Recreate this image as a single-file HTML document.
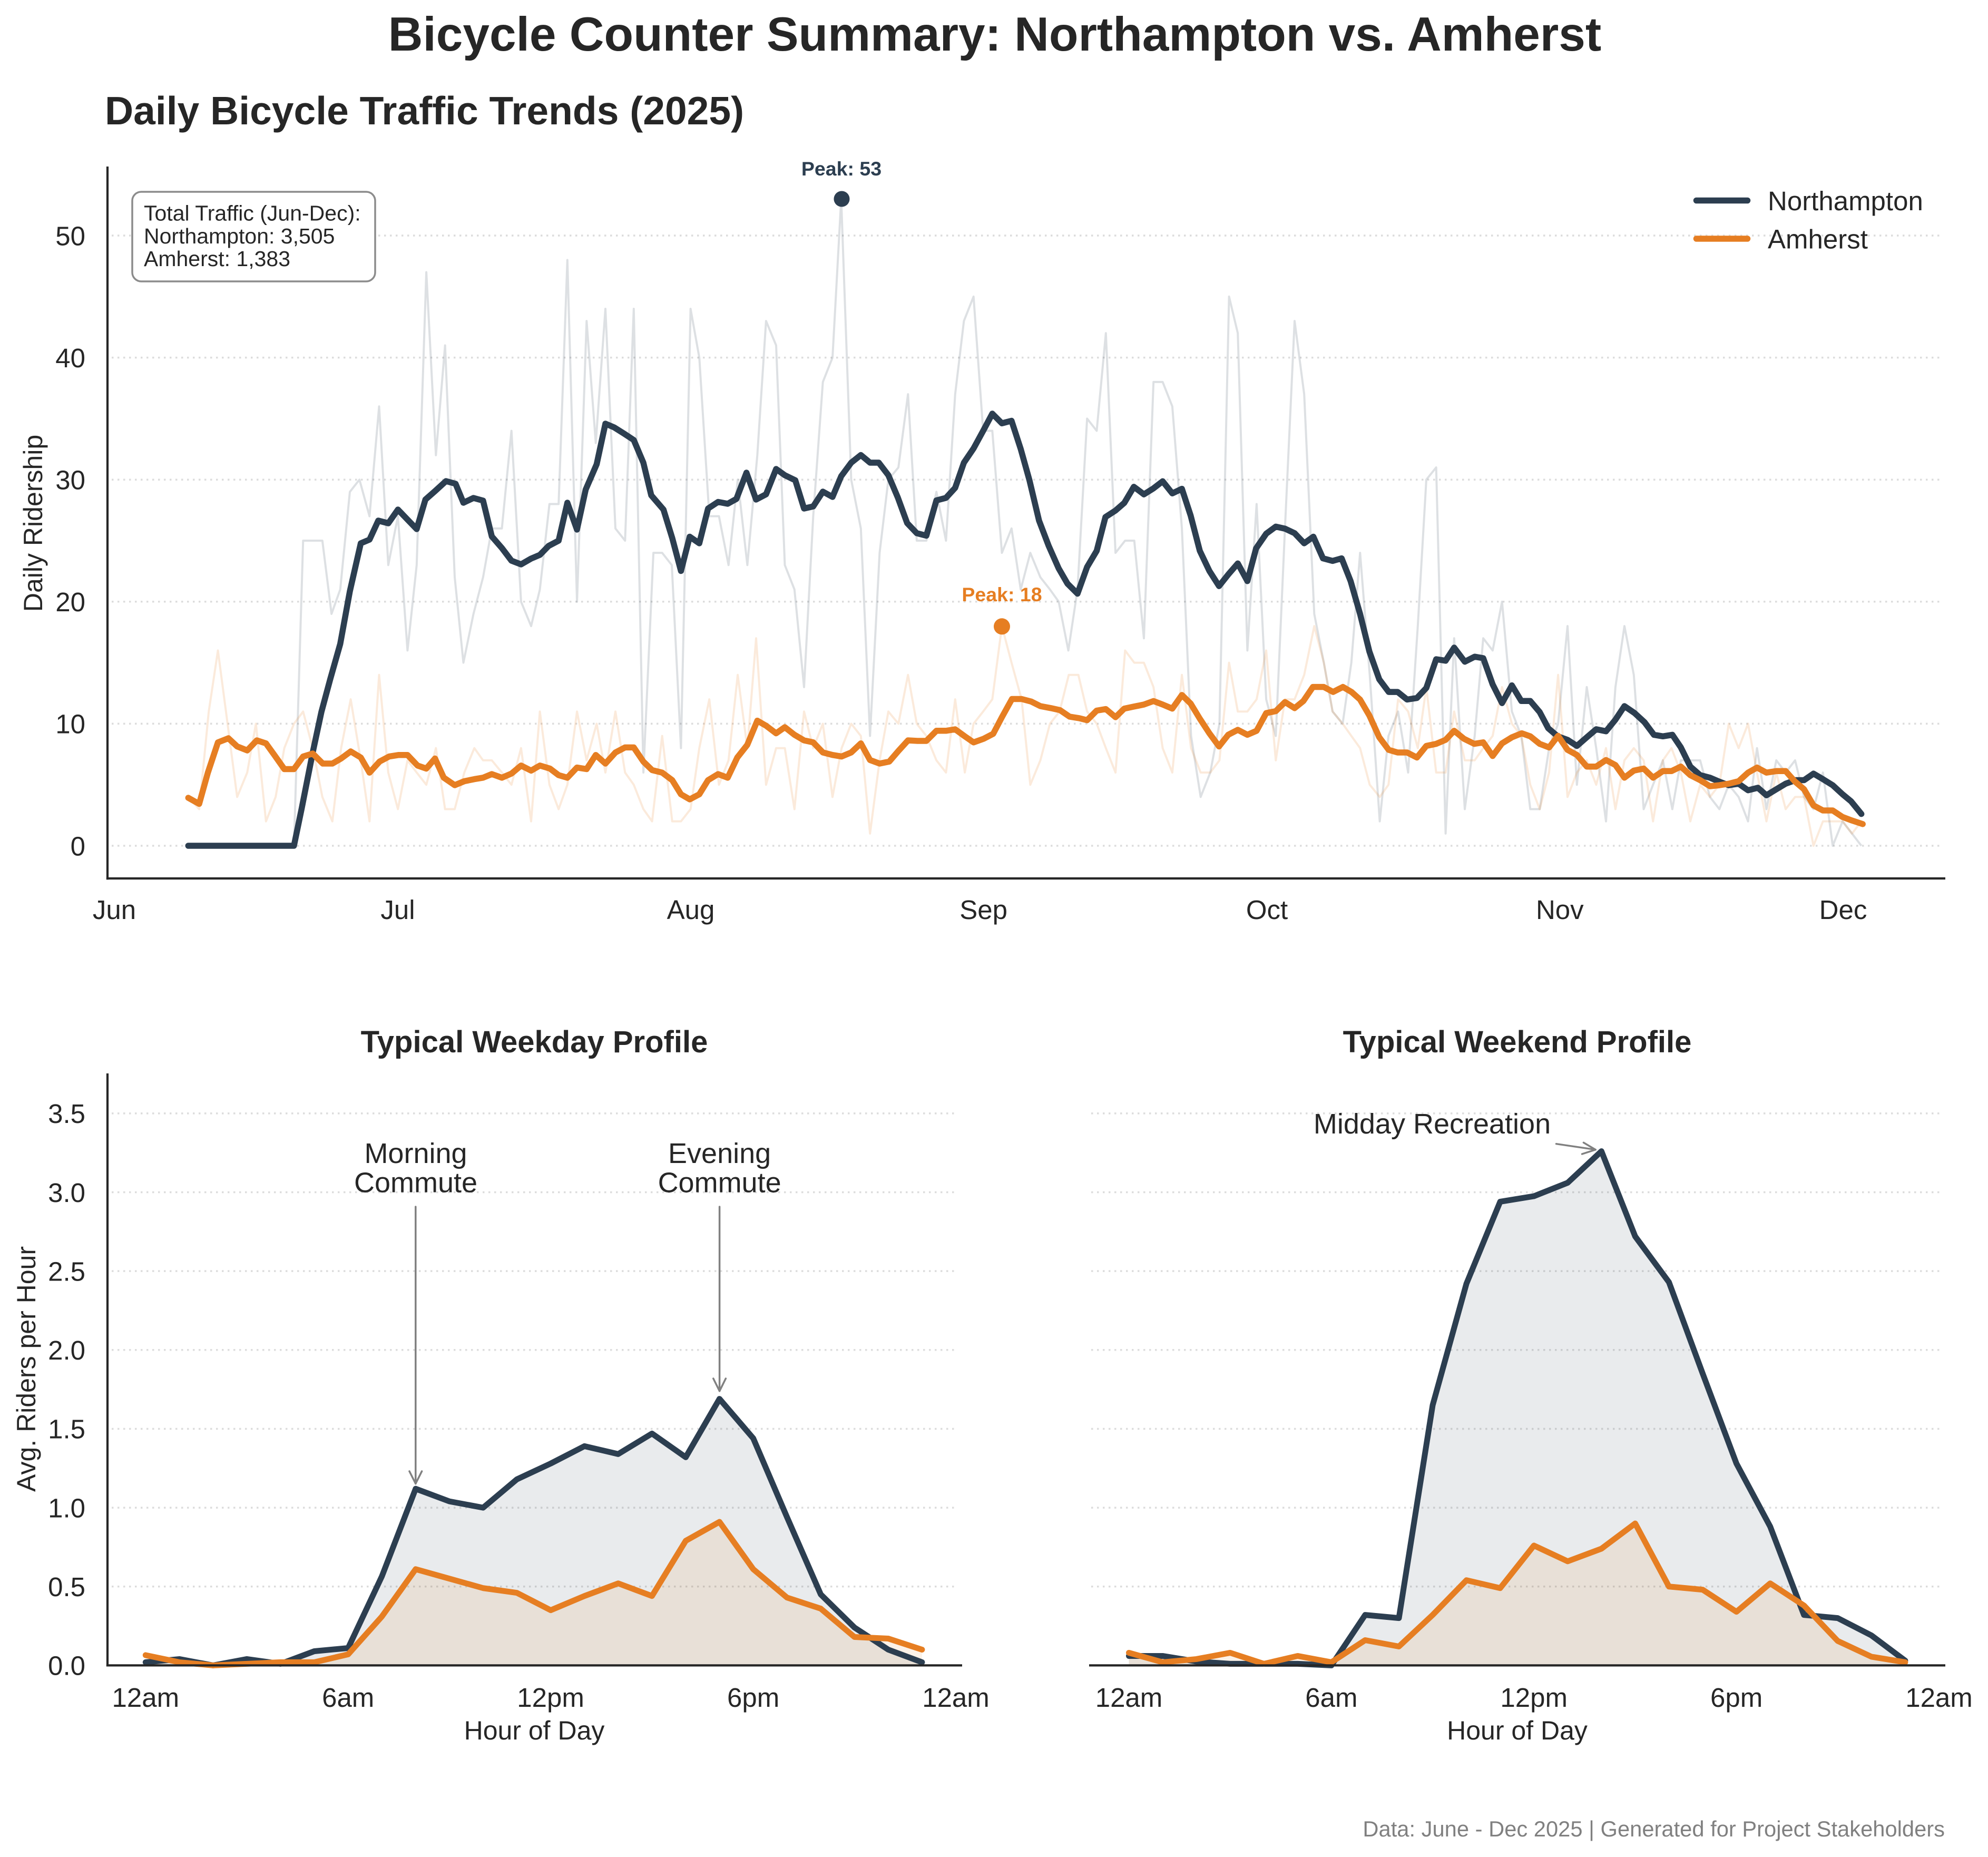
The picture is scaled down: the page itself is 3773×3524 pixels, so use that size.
<!DOCTYPE html>
<html>
<head>
<meta charset="utf-8">
<style>
  html, body { margin:0; padding:0; background:#ffffff; }
  svg { display:block; }
  text { font-family: "Liberation Sans", Arial, sans-serif; fill:#262626; }
</style>
</head>
<body>
<svg xmlns="http://www.w3.org/2000/svg" width="3773" height="3524" viewBox="0 0 3773 3524">
  <rect x="0" y="0" width="3773" height="3524" fill="#ffffff"/>

  <!-- Main title -->
  <text x="1888" y="96" font-size="91" font-weight="bold" text-anchor="middle">Bicycle Counter Summary: Northampton vs. Amherst</text>

  <!-- ============ TOP CHART ============ -->
  <text x="199" y="236" font-size="75" font-weight="bold">Daily Bicycle Traffic Trends (2025)</text>

  <!-- gridlines -->
  <g stroke="#dcdcdc" stroke-width="3.5" stroke-dasharray="3.5 7.5">
    <line x1="212" y1="1605" x2="3685" y2="1605"/>
    <line x1="212" y1="1373.4" x2="3685" y2="1373.4"/>
    <line x1="212" y1="1141.8" x2="3685" y2="1141.8"/>
    <line x1="212" y1="910.2" x2="3685" y2="910.2"/>
    <line x1="212" y1="678.6" x2="3685" y2="678.6"/>
    <line x1="212" y1="447" x2="3685" y2="447"/>
  </g>

  <!-- raw lines -->
  <g transform="translate(0,1605) scale(1,-23.16)">
    <polyline fill="none" stroke="#2c3e50" stroke-opacity="0.16" stroke-width="4" vector-effect="non-scaling-stroke" stroke-linejoin="round"
      points="357.3,0 557.9,0 575.3,25 611.8,25 629.2,19 645.7,21 664,29 682.2,30 701.3,27 719.5,36 736.9,23 755.2,27 773.4,16 790.8,23 809.1,47 827.3,32 844.7,41 863,22 879.5,15 898.6,19 916.8,22 933.4,26 952.5,26 970.7,34 988.9,20 1008,18 1024.6,21 1042.8,28 1060.2,28 1076.8,48 1095.1,20 1113.3,43 1130.7,33 1149,44 1168,26 1186.3,25 1202.8,44 1221.1,6 1240.1,24 1256.7,24 1275,23 1292.4,8 1310.6,44 1327.2,40 1346.2,27 1364.5,27 1382.7,23 1400.1,30 1418.4,23 1437.3,32 1453.9,43 1473,41 1489.5,23 1507.8,21 1526,13 1543.4,27 1561.7,38 1580,40 1596.5,53 1615.5,30 1633.8,26 1651.2,9 1669.4,24 1686,30 1705.1,31 1723.3,37 1739.9,25 1758.1,25 1777.2,29 1795.4,25 1812.8,37 1829.4,43 1847.7,45 1865.9,34 1883.3,34 1901.5,24 1919.8,26 1937.2,21 1955.4,24 1974.5,22 1992.7,21 2009.3,20 2027.6,16 2045,21 2063.2,35 2081.4,34 2098.8,42 2117.1,24 2135.3,25 2152.7,25 2171,17 2189.2,38 2206.6,38 2224.9,36 2243.1,26 2260.5,9 2278.7,4 2297,6 2314.4,10 2332.6,45 2349.2,42 2367.4,16 2384.9,28 2403.1,12 2421.3,9 2438.7,26 2457,43 2475.2,37 2494.3,19 2512.5,15 2529.1,11 2548.2,10 2564.7,15 2581.3,24 2599.6,14 2618.6,2 2635.2,9 2653.4,11 2672.5,6 2690.8,18 2707,30 2725.7,31 2743.6,1 2759.8,17 2780,3 2798.8,9 2815,17 2832.9,16 2850.7,20 2869.4,11 2887.3,9 2904.3,3 2922.2,3 2940,8 2957.1,10 2975,18 2992.8,5 3011.5,13 3029.4,8 3048,2 3065.9,13 3083,18 3100.8,14 3119.5,3 3137.3,5 3156,7 3173.9,3 3190.1,7 3208,7 3226.7,7 3245.3,4 3263.2,3 3281,5 3299.7,4 3317.6,2 3334.6,8 3352.5,3 3371.2,7 3389,6 3406.9,7 3423.9,4 3441.8,3 3459.7,6 3478.3,0 3497,2 3514.9,1 3532.7,0"/>
    <polyline fill="none" stroke="#e67e22" stroke-opacity="0.16" stroke-width="4" vector-effect="non-scaling-stroke" stroke-linejoin="round"
      points="357.3,4 378,3 396.2,11 413.6,16 431.9,10 450.1,4 469.2,6 485.7,10 504.8,2 523.1,4 539.6,8 557.9,10 575.3,11 593.5,8 611.8,4 630.8,2 647.4,8 665.6,12 684.7,7 701.3,2 719.5,14 736.9,6 755.2,3 773.4,7 790.8,6 809.1,5 827.3,8 844.7,3 863,3 881.2,6 900.2,8 916.8,7 933.4,7 952.5,6 970.7,5 988.9,8 1008,2 1024.6,11 1042.8,5 1060.2,3 1076.8,5 1095.1,11 1113.3,7 1132.4,10 1149,6 1168,11 1186.3,6 1202.8,5 1221.1,3 1237.6,2 1256.7,9 1275.8,2 1292.4,2 1310.6,3 1327.2,8 1346.2,12 1364.5,5 1382.7,7 1400.1,14 1418.4,8 1435,17 1453.9,5 1473,8 1489.5,8 1507.8,3 1526,11 1543.4,8 1561.7,10 1580,4 1597.3,8 1615.5,10 1633.8,9 1651.2,1 1669.4,7 1686,11 1705.1,10 1723.3,14 1739.9,10 1758.1,9 1777.2,7 1795.4,6 1812.8,12 1831.1,6 1847.7,10 1865.9,11 1883.3,12 1901.5,18 1919.8,15 1938.9,12 1955.4,5 1974.5,7 1992.7,10 2011,11 2028.4,14 2046.6,14 2063.2,11 2081.4,10 2098.8,8 2117.1,6 2135.3,16 2152.7,15 2171,15 2189.2,13 2206.6,8 2224.9,6 2243.1,14 2260.5,8 2278.7,6 2297,6 2314.4,7 2332.6,15 2349.2,11 2367.4,11 2384.9,12 2403.1,16 2421.3,7 2438.7,12 2457,12 2475.2,14 2494.3,18 2512.5,15 2529.1,11 2548.2,10 2564.7,9 2581.3,8 2599.6,5 2618.6,4 2635.2,5 2653.4,12 2672.5,11 2690.8,8 2707,13 2725.7,6 2743.6,6 2759.8,11 2780,7 2798.8,7 2815,8 2832.9,9 2850.7,13 2869.4,10 2887.3,9 2904.3,5 2922.2,3 2940,6 2957.1,14 2975,4 2992.8,6 3011.5,7 3029.4,5 3048,8 3065.9,3 3083,7 3100.8,8 3119.5,7 3137.3,2 3156,7 3172.3,8 3190.1,6 3208,2 3226.7,5 3245.3,4 3263.2,5 3281,10 3299.7,8 3317.6,10 3334.6,6 3352.5,2 3371.2,6 3389,3 3406.9,4 3423.9,4 3441.8,0 3459.7,2 3478.3,2 3497,2 3514.9,1 3532.7,2"/>
  </g>

  <!-- smoothed lines -->
  <polyline fill="none" stroke="#2c3e50" stroke-width="11.5" stroke-linejoin="round" stroke-linecap="round"
    points="357.3,1605 557.9,1605 572.8,1533 593.5,1428 610,1351 626.7,1289 645.7,1222 664,1122 684.7,1031 701.3,1024 717.9,988 737,993 755.2,967 773.4,986 790.8,1004 807.4,948 825.6,932 846.4,913 864.6,918 879.5,954 898.6,945 916.8,950 933.4,1018 952.5,1040 970.7,1064 988.9,1071 1008,1060 1024.6,1053 1041.2,1036 1060.2,1026 1076.8,954 1095,1005 1111.6,929 1132.4,881 1149,804 1165.5,811 1184.6,823 1202.8,835 1221,878 1236,940 1259.2,967 1275.8,1021 1292.4,1083.5 1309,1018.5 1327.2,1031 1343.8,965 1362.8,952.5 1381.1,956 1397.6,946.8 1416.7,897 1434.9,948 1453.9,938 1473,890 1489.5,901.8 1509.4,911.4 1526,965 1543.4,961 1561.7,933 1580,943 1596.5,903.7 1615.5,878 1633.8,863.5 1651.2,878 1667.8,878 1686,901.8 1704.2,944.8 1721.7,992.7 1739.9,1011.8 1758.1,1016.6 1777.2,949.6 1795.4,944.8 1812.8,925.7 1829.4,878 1847.7,851 1865.9,817.6 1883.3,785 1901.5,803.3 1919.8,798.5 1937.2,852 1953.8,911.4 1972,988 1990.2,1035.7 2009.3,1078.8 2025.9,1107.5 2045,1126.6 2063.2,1075.9 2081.4,1045.3 2098,981.2 2117.1,968.8 2133.7,954.4 2151.9,923.8 2171,938.1 2189.2,926.7 2206.6,913.3 2224.9,936.3 2243.1,927.6 2259.7,978.3 2277.1,1045.3 2295.3,1083.5 2313.6,1112.2 2331,1090.3 2349.2,1069.2 2367.4,1102.7 2384,1040.5 2403.1,1012.8 2421.3,999.4 2438.7,1003.2 2457,1011.8 2475.2,1031 2492.6,1018.5 2510.9,1059.6 2529.1,1064.4 2546.3,1059.6 2563.3,1102.7 2581.2,1164.9 2599,1236.6 2617.7,1289.2 2635.6,1313.1 2652.6,1313.1 2670.5,1327.5 2689.2,1324.6 2707,1305.5 2725.7,1251 2743.6,1253.8 2759.8,1229 2780,1255.7 2798.8,1246.2 2815,1249 2832.9,1298.8 2850.7,1334.2 2869.4,1300.7 2887.3,1330.3 2904.3,1330.3 2922.2,1351.4 2938.4,1382 2956.3,1397.3 2975,1404 2992.8,1415.5 3011.5,1399.2 3029.4,1383.9 3048,1387.7 3065.9,1365.7 3083,1340 3102.4,1353.3 3121.1,1370.5 3139,1394.4 3156,1397.3 3173.9,1394.4 3190.1,1418.4 3208,1454.7 3226.7,1471 3245.3,1475.8 3263.2,1483.4 3281,1490.1 3299.7,1487.2 3317.6,1499.7 3336.3,1494.9 3352.5,1509.2 3371.2,1497.8 3389,1487.2 3407.7,1480.5 3423.9,1480.5 3441.8,1468.1 3459.7,1478.6 3478.3,1490.1 3497,1507.3 3513.2,1520.7 3532.7,1544.6"/>
  <polyline fill="none" stroke="#e67e22" stroke-width="11.5" stroke-linejoin="round" stroke-linecap="round"
    points="357.3,1514 378,1525.5 394.6,1466 413.6,1408.8 433.5,1401 450.1,1416.5 469.2,1424 487.4,1405 504.8,1410.7 521.4,1433.7 539.6,1459.5 557.9,1459.5 575.3,1435.6 593.5,1430 612.6,1449 630.8,1449 647.4,1439.4 665.6,1426 684.7,1437.5 701.3,1466.2 720.4,1445.2 738.6,1435.6 756.8,1432.7 773.4,1432.7 792.5,1452.8 809.1,1458.5 825.6,1439.4 842.2,1475.8 863,1490 881.2,1482.5 900.2,1478.6 916.8,1475.8 933.4,1469 952.5,1475.8 970.7,1468 988.9,1452.8 1008,1462.4 1024.6,1452.8 1043.7,1458.5 1060.2,1471 1076.8,1475.8 1095,1456.6 1113.3,1459.5 1130.7,1432.7 1149,1449 1168,1428 1186.3,1418.4 1202.8,1418.4 1221,1445.2 1237.6,1461.4 1256.7,1466.2 1275.8,1480.5 1292.4,1507.3 1309,1516.9 1327.2,1507.3 1343.8,1480.5 1362.8,1469 1381.1,1475.8 1399.3,1437.5 1418.2,1413.6 1437.3,1367.6 1453.9,1377.2 1473,1391.6 1489.5,1380 1507.8,1394.4 1526,1405 1543.4,1408.8 1561.7,1427.9 1580,1432.7 1597.3,1435.6 1615.5,1427.9 1633.8,1410.7 1651.2,1442.3 1669.4,1449 1687.7,1445.2 1705.1,1425 1723.3,1405 1741.5,1406 1758.1,1406 1777.2,1386.8 1795.4,1386.8 1812.8,1384 1831.1,1397.3 1847.7,1408.8 1866.7,1402 1885,1392.5 1901.5,1361 1920.6,1326.5 1938.9,1326.5 1957.1,1331.3 1974.5,1340 1994.4,1343.8 2011.8,1347.6 2030,1360 2048.3,1362.9 2063.2,1366.7 2081.4,1348.5 2098.8,1345.6 2117.1,1361 2133.7,1344.7 2151.9,1340.9 2171,1337 2189.2,1330.4 2206.6,1337 2224.9,1344.7 2243.1,1318.9 2259.7,1335.1 2277.1,1363.8 2295.3,1391.6 2313.6,1416.5 2331,1394.4 2349.2,1385 2367.4,1394.4 2384.9,1386.8 2403.1,1353.3 2421.3,1349.5 2438.7,1332.3 2457,1343.8 2473.6,1330.4 2491.8,1303.6 2512.2,1303.6 2530,1313.1 2548.7,1303.6 2565,1313.1 2581.2,1327.5 2599,1358 2617.7,1399.2 2635.6,1423 2652.6,1428 2670.5,1428 2689.2,1437.5 2707,1415.5 2725.7,1411.6 2743.6,1404 2759.8,1386.8 2778.5,1402 2798,1411.6 2815,1408.8 2832.9,1434.6 2850.7,1410.7 2869.4,1399.2 2888.1,1391.6 2904.3,1397.3 2922.2,1411.6 2940,1418.4 2957.1,1396.4 2975,1423 2992.8,1432.7 3011.5,1454.7 3029.4,1454.7 3048,1442.3 3065.9,1451.8 3083,1475.8 3100.8,1462.4 3119.5,1458.5 3137.3,1475.8 3156,1463.3 3172.3,1463.3 3190.1,1454.7 3208,1471 3226.7,1480.5 3245.3,1492 3263.2,1490.1 3281,1487.2 3299.7,1482.5 3317.6,1466.2 3334.6,1456.6 3352.5,1466.2 3371.2,1463.3 3389,1463.3 3406.9,1483.4 3423.9,1497.8 3441.8,1528.4 3459.7,1538 3478.3,1538 3497,1550.4 3514.9,1557.1 3535.2,1563.8"/>

  <!-- peaks -->
  <circle cx="1597.5" cy="377.5" r="15" fill="#2c3e50"/>
  <text x="1597" y="333" font-size="37.5" font-weight="bold" text-anchor="middle" style="fill:#2c3e50">Peak: 53</text>
  <circle cx="1901.5" cy="1188.8" r="15.5" fill="#e67e22"/>
  <text x="1901.5" y="1141" font-size="37.5" font-weight="bold" text-anchor="middle" style="fill:#e67e22">Peak: 18</text>

  <!-- spines -->
  <line x1="204" y1="316" x2="204" y2="1669.2" stroke="#262626" stroke-width="4.2"/>
  <line x1="201.9" y1="1667" x2="3692" y2="1667" stroke="#262626" stroke-width="4.2"/>

  <!-- y ticks -->
  <g font-size="51" text-anchor="end">
    <text x="162" y="1623.3">0</text>
    <text x="162" y="1391.7">10</text>
    <text x="162" y="1160.1">20</text>
    <text x="162" y="928.5">30</text>
    <text x="162" y="696.9">40</text>
    <text x="162" y="465.3">50</text>
  </g>
  <!-- x ticks -->
  <g font-size="51" text-anchor="middle">
    <text x="217" y="1744">Jun</text>
    <text x="755" y="1744">Jul</text>
    <text x="1311" y="1744">Aug</text>
    <text x="1866.6" y="1744">Sep</text>
    <text x="2404.5" y="1744">Oct</text>
    <text x="2960.3" y="1744">Nov</text>
    <text x="3498" y="1744">Dec</text>
  </g>
  <text transform="translate(80,993) rotate(-90)" font-size="50" text-anchor="middle">Daily Ridership</text>

  <!-- text box -->
  <rect x="251" y="364" width="461" height="170" rx="17" ry="17" fill="#ffffff" stroke="#8c8c8c" stroke-width="3.5"/>
  <g font-size="41">
    <text x="273" y="418.7">Total Traffic (Jun-Dec):</text>
    <text x="273" y="461.8">Northampton: 3,505</text>
    <text x="273" y="504.8">Amherst: 1,383</text>
  </g>

  <!-- legend -->
  <line x1="3219.5" y1="380.5" x2="3316.5" y2="380.5" stroke="#2c3e50" stroke-width="11.5" stroke-linecap="round"/>
  <line x1="3219.5" y1="453" x2="3316.5" y2="453" stroke="#e67e22" stroke-width="11.5" stroke-linecap="round"/>
  <text x="3355" y="398.8" font-size="51">Northampton</text>
  <text x="3355" y="471.3" font-size="51">Amherst</text>

  <!-- ============ BOTTOM LEFT ============ -->
  <text x="1014" y="1997" font-size="58" font-weight="bold" text-anchor="middle">Typical Weekday Profile</text>
  <g stroke="#dcdcdc" stroke-width="3.5" stroke-dasharray="3.5 7.5">
    <line x1="212" y1="3010.75" x2="1817" y2="3010.75"/>
    <line x1="212" y1="2861.1" x2="1817" y2="2861.1"/>
    <line x1="212" y1="2711.45" x2="1817" y2="2711.45"/>
    <line x1="212" y1="2561.8" x2="1817" y2="2561.8"/>
    <line x1="212" y1="2412.15" x2="1817" y2="2412.15"/>
    <line x1="212" y1="2262.5" x2="1817" y2="2262.5"/>
    <line x1="212" y1="2112.85" x2="1817" y2="2112.85"/>
  </g>
  <g transform="translate(276.3,3160.4) scale(64.07,-299.3)">
    <polygon fill="#2c3e50" fill-opacity="0.1"
      points="0,0 0,0.02 1,0.04 2,0.00 3,0.04 4,0.01 5,0.09 6,0.11 7,0.565 8,1.12 9,1.04 10,1.00 11,1.18 12,1.28 13,1.39 14,1.34 15,1.47 16,1.32 17,1.69 18,1.44 19,0.94 20,0.45 21,0.24 22,0.10 23,0.02 23,0"/>
    <polygon fill="#e67e22" fill-opacity="0.1"
      points="0,0 0,0.065 1,0.02 2,0.0 3,0.01 4,0.02 5,0.02 6,0.07 7,0.31 8,0.61 9,0.55 10,0.49 11,0.46 12,0.35 13,0.44 14,0.52 15,0.44 16,0.79 17,0.91 18,0.61 19,0.43 20,0.36 21,0.18 22,0.17 23,0.10 23,0"/>
    <polyline fill="none" stroke="#2c3e50" stroke-width="11" vector-effect="non-scaling-stroke" stroke-linejoin="round" stroke-linecap="round"
      points="0,0.02 1,0.04 2,0.00 3,0.04 4,0.01 5,0.09 6,0.11 7,0.565 8,1.12 9,1.04 10,1.00 11,1.18 12,1.28 13,1.39 14,1.34 15,1.47 16,1.32 17,1.69 18,1.44 19,0.94 20,0.45 21,0.24 22,0.10 23,0.02"/>
    <polyline fill="none" stroke="#e67e22" stroke-width="11" vector-effect="non-scaling-stroke" stroke-linejoin="round" stroke-linecap="round"
      points="0,0.065 1,0.02 2,0.0 3,0.01 4,0.02 5,0.02 6,0.07 7,0.31 8,0.61 9,0.55 10,0.49 11,0.46 12,0.35 13,0.44 14,0.52 15,0.44 16,0.79 17,0.91 18,0.61 19,0.43 20,0.36 21,0.18 22,0.17 23,0.10"/>
  </g>
  <line x1="204" y1="2037" x2="204" y2="3162.5" stroke="#262626" stroke-width="4.2"/>
  <line x1="201.9" y1="3160.4" x2="1826" y2="3160.4" stroke="#262626" stroke-width="4.2"/>
  <g font-size="51" text-anchor="end">
    <text x="162" y="3178.7">0.0</text>
    <text x="162" y="3029">0.5</text>
    <text x="162" y="2879.4">1.0</text>
    <text x="162" y="2729.7">1.5</text>
    <text x="162" y="2580.1">2.0</text>
    <text x="162" y="2430.4">2.5</text>
    <text x="162" y="2280.8">3.0</text>
    <text x="162" y="2131.1">3.5</text>
  </g>
  <g font-size="51" text-anchor="middle">
    <text x="276.3" y="3239">12am</text>
    <text x="660.7" y="3239">6am</text>
    <text x="1045.1" y="3239">12pm</text>
    <text x="1429.6" y="3239">6pm</text>
    <text x="1814" y="3239">12am</text>
  </g>
  <text x="1014" y="3301" font-size="50" text-anchor="middle">Hour of Day</text>
  <text transform="translate(67,2598) rotate(-90)" font-size="50" text-anchor="middle">Avg. Riders per Hour</text>

  <!-- annotations weekday -->
  <g font-size="54" text-anchor="middle">
    <text x="789" y="2207">Morning</text>
    <text x="789" y="2262.5">Commute</text>
    <text x="1365.6" y="2207">Evening</text>
    <text x="1365.6" y="2262.5">Commute</text>
  </g>
  <g stroke="#808080" stroke-width="3.5" fill="none" stroke-linecap="round" stroke-linejoin="round">
    <line x1="788.8" y1="2290" x2="788.8" y2="2815.5"/>
    <polyline points="777,2792 788.8,2815.5 800.6,2792"/>
    <line x1="1365.6" y1="2290" x2="1365.6" y2="2639.8"/>
    <polyline points="1353.8,2616 1365.6,2639.8 1377.4,2616"/>
  </g>

  <!-- ============ BOTTOM RIGHT ============ -->
  <text x="2879.5" y="1997" font-size="58" font-weight="bold" text-anchor="middle">Typical Weekend Profile</text>
  <g stroke="#dcdcdc" stroke-width="3.5" stroke-dasharray="3.5 7.5">
    <line x1="2071" y1="3010.75" x2="3686" y2="3010.75"/>
    <line x1="2071" y1="2861.1" x2="3686" y2="2861.1"/>
    <line x1="2071" y1="2711.45" x2="3686" y2="2711.45"/>
    <line x1="2071" y1="2561.8" x2="3686" y2="2561.8"/>
    <line x1="2071" y1="2412.15" x2="3686" y2="2412.15"/>
    <line x1="2071" y1="2262.5" x2="3686" y2="2262.5"/>
    <line x1="2071" y1="2112.85" x2="3686" y2="2112.85"/>
  </g>
  <g transform="translate(2142.5,3160.4) scale(64.06,-299.3)">
    <polygon fill="#2c3e50" fill-opacity="0.1"
      points="0,0 0,0.06 1,0.06 2,0.025 3,0.01 4,0.01 5,0.01 6,0.0 7,0.32 8,0.30 9,1.65 10,2.42 11,2.94 12,2.975 13,3.06 14,3.26 15,2.72 16,2.43 17,1.85 18,1.28 19,0.88 20,0.32 21,0.30 22,0.19 23,0.03 23,0"/>
    <polygon fill="#e67e22" fill-opacity="0.1"
      points="0,0 0,0.08 1,0.02 2,0.04 3,0.08 4,0.01 5,0.06 6,0.02 7,0.16 8,0.12 9,0.32 10,0.54 11,0.49 12,0.76 13,0.66 14,0.74 15,0.90 16,0.50 17,0.48 18,0.34 19,0.52 20,0.38 21,0.155 22,0.055 23,0.02 23,0"/>
    <polyline fill="none" stroke="#2c3e50" stroke-width="11" vector-effect="non-scaling-stroke" stroke-linejoin="round" stroke-linecap="round"
      points="0,0.06 1,0.06 2,0.025 3,0.01 4,0.01 5,0.01 6,0.0 7,0.32 8,0.30 9,1.65 10,2.42 11,2.94 12,2.975 13,3.06 14,3.26 15,2.72 16,2.43 17,1.85 18,1.28 19,0.88 20,0.32 21,0.30 22,0.19 23,0.03"/>
    <polyline fill="none" stroke="#e67e22" stroke-width="11" vector-effect="non-scaling-stroke" stroke-linejoin="round" stroke-linecap="round"
      points="0,0.08 1,0.02 2,0.04 3,0.08 4,0.01 5,0.06 6,0.02 7,0.16 8,0.12 9,0.32 10,0.54 11,0.49 12,0.76 13,0.66 14,0.74 15,0.90 16,0.50 17,0.48 18,0.34 19,0.52 20,0.38 21,0.155 22,0.055 23,0.02"/>
  </g>
  <line x1="2067" y1="3160.4" x2="3692" y2="3160.4" stroke="#262626" stroke-width="4.2"/>
  <g font-size="51" text-anchor="middle">
    <text x="2142.5" y="3239">12am</text>
    <text x="2526.9" y="3239">6am</text>
    <text x="2911.2" y="3239">12pm</text>
    <text x="3295.6" y="3239">6pm</text>
    <text x="3680" y="3239">12am</text>
  </g>
  <text x="2879.5" y="3301" font-size="50" text-anchor="middle">Hour of Day</text>

  <text x="2718" y="2151" font-size="54" text-anchor="middle">Midday Recreation</text>
  <g stroke="#808080" stroke-width="3.5" fill="none" stroke-linecap="round" stroke-linejoin="round">
    <line x1="2953.6" y1="2170.7" x2="3028.2" y2="2181.7"/>
    <polyline points="3005.4,2168.3 3028.2,2181.7 3002.5,2190"/>
  </g>

  <!-- footer -->
  <text x="3691" y="3485" font-size="41.7" text-anchor="end" style="fill:#808080">Data: June - Dec 2025 | Generated for Project Stakeholders</text>
</svg>
</body>
</html>
